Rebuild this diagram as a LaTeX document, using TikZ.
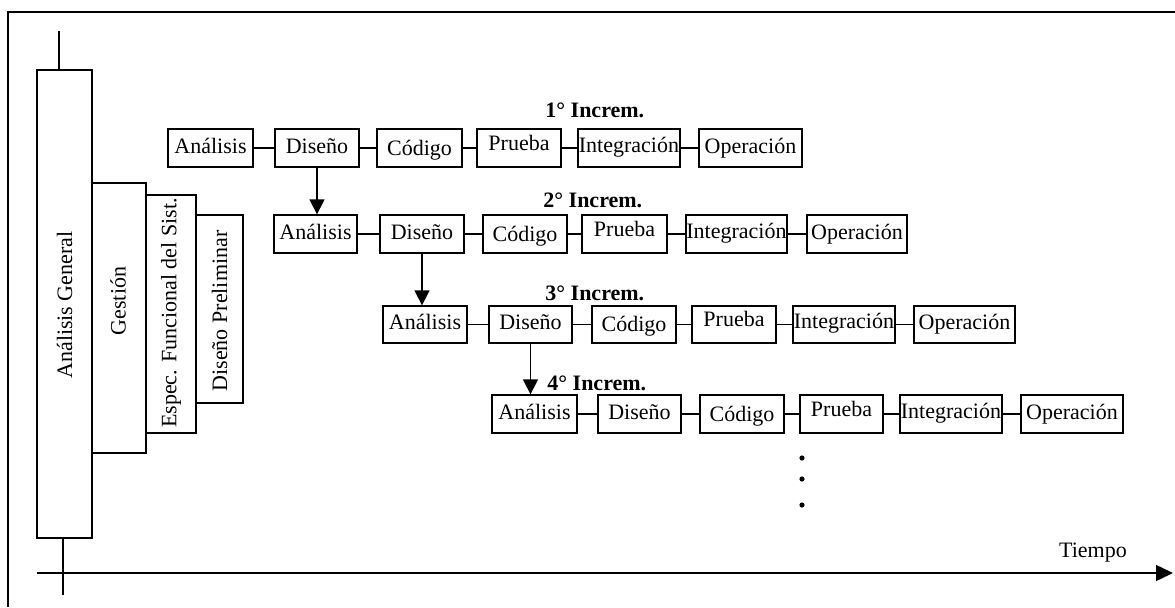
\documentclass[tikz,border=0pt]{standalone}
\usepackage{fontspec}
\setmainfont{Liberation Serif}
\usetikzlibrary{arrows.meta}
\newcommand{\mkbox}[6]{\node[bx, minimum width={(#3-#2)*0.5pt}, minimum height={(#5-#4)*0.5pt}] (#1) at ({(#2+#3)/2},{(#4+#5)/2}) {#6};}
\newcommand{\cod}{\raisebox{-1pt}{Código}}
\newcommand{\prb}{\raisebox{1.5pt}{Prueba}}
\newcommand{\itg}{\raisebox{0.5pt}{Integración}}
\tikzset{
  fnt/.style={font=\fontsize{11}{13}\selectfont},
  bx/.style={draw, line width=0.65pt, inner sep=0pt, fnt, text height=7pt, text depth=2pt},
  lnk/.style={line width=0.65pt},
  darr/.style={line width=0.65pt, -{Triangle[length=7.5pt,width=7.5pt]}},
  inc/.style={font=\fontsize{11}{13}\selectfont\bfseries, anchor=west, inner sep=0pt},
  vtext/.style={fnt, rotate=90, inner sep=0pt},
}
\begin{document}
\begin{tikzpicture}[x=0.5pt,y=-0.5pt]
\useasboundingbox (0,0) rectangle (1175,607);
% frame
\draw[line width=1.25pt] (8,607) -- (8,12) -- (1176,12);
% tall phase boxes
\mkbox{ag}{37}{92}{70}{538}{}
\mkbox{ge}{92}{146}{183}{453}{}
\mkbox{ef}{146}{196}{195}{433}{}
\mkbox{dp}{196}{243}{215}{403}{}
\node[vtext] (tag) at (64.5,305) {Análisis General};
\node[vtext] (tge) at (118,301) {Gestión};
\node[vtext] (tef) at (171,313) {Espec. Funcional del Sist.};
\node[vtext] (tdp) at (219.5,311) {Diseño Preliminar};
\coordinate (agtop) at (59,31);
\coordinate (agbot) at (63,595);
\draw[lnk] (agtop) -- (agtop |- ag.north);
\draw[lnk] (agbot) -- (agbot |- ag.south);
% time axis
\coordinate (ax0) at (37,573);
\coordinate (ax1) at (1173,573);
\draw[line width=0.75pt, -{Triangle[length=8.5pt,width=8pt]}] (ax0) -- (ax1);
\node[fnt, inner sep=0pt] (tiempo) at (1093,553) {Tiempo};
% row 1
\mkbox{a1}{168}{253}{129}{167}{Análisis}
\mkbox{d1}{275}{359}{129}{167}{Diseño}
\mkbox{c1}{377}{462}{129}{167}{\cod}
\mkbox{p1}{477}{561}{129}{167}{\prb}
\mkbox{i1}{578}{680}{129}{167}{\itg}
\mkbox{o1}{699}{802}{129}{167}{Operación}
% row 2
\mkbox{a2}{274}{357}{215}{253}{Análisis}
\mkbox{d2}{380}{464}{215}{253}{Diseño}
\mkbox{c2}{483}{567}{215}{253}{\cod}
\mkbox{p2}{582}{667}{215}{253}{\prb}
\mkbox{i2}{686}{787}{215}{253}{\itg}
\mkbox{o2}{807}{907}{215}{253}{Operación}
% row 3
\mkbox{a3}{383}{467}{306}{343}{Análisis}
\mkbox{d3}{489}{572}{306}{343}{Diseño}
\mkbox{c3}{592}{676}{306}{343}{\cod}
\mkbox{p3}{692}{776}{306}{343}{\prb}
\mkbox{i3}{793}{895}{306}{343}{\itg}
\mkbox{o3}{914}{1015}{306}{343}{Operación}
% row 4
\mkbox{a4}{492}{577}{395}{433}{Análisis}
\mkbox{d4}{598}{681}{395}{433}{Diseño}
\mkbox{c4}{700}{784}{395}{433}{\cod}
\mkbox{p4}{800}{883}{395}{433}{\prb}
\mkbox{i4}{900}{1002}{395}{433}{\itg}
\mkbox{o4}{1021}{1123}{395}{433}{Operación}
% horizontal links
\foreach \r in {1,2,3,4}{
  \draw[lnk] (a\r.east) -- (d\r.west);
  \draw[lnk] (d\r.east) -- (c\r.west);
  \draw[lnk] (c\r.east) -- (p\r.west);
  \draw[lnk] (p\r.east) -- (i\r.west);
  \draw[lnk] (i\r.east) -- (o\r.west);
}
% increment labels
\node[inc] (inc1) at (545,110) {1° Increm.};
\node[inc] (inc2) at (543,200) {2° Increm.};
\node[inc] (inc3) at (545,293) {3° Increm.};
\node[inc] (inc4) at (547,383) {4° Increm.};
% down arrows
\draw[darr] (d1.south) -- (d1.south |- a2.north);
\draw[darr] (d2.south) -- (d2.south |- a3.north);
\draw[darr] (d3.south) -- (d3.south |- a4.north);
% dots
\fill (802,458) circle (1.3pt);
\fill (802,479) circle (1.3pt);
\fill (802,505) circle (1.3pt);
\end{tikzpicture}
\end{document}
